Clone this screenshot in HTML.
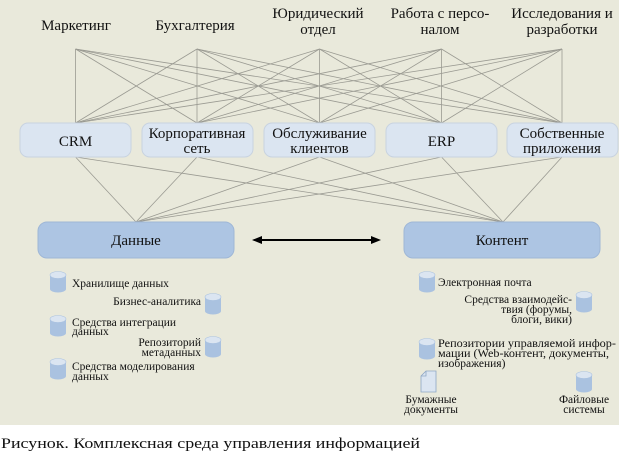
<!DOCTYPE html>
<html><head><meta charset="utf-8"><style>
html,body{margin:0;padding:0;background:#fff;}
svg{display:block;}
text{font-family:"Liberation Serif","DejaVu Serif",serif;fill:#111;}
</style></head><body>
<svg width="619" height="459" viewBox="0 0 619 459" xmlns="http://www.w3.org/2000/svg">
<defs>
<g id="cyl">
<path d="M0,4 L0,18 A8,3.5 0 0 0 16,18 L16,4 Z" fill="#aac2e0"/>
<ellipse cx="8" cy="4" rx="8" ry="3.5" fill="#dbe5f1" stroke="#aac2e0" stroke-width="0.6"/>
</g>
</defs>
<rect x="0" y="0" width="619" height="425" fill="#e9e9db"/>
<g stroke="#9a9a92" stroke-width="0.8" fill="none">
<line x1="75.5" y1="49" x2="75.5" y2="123"/><line x1="75.5" y1="49" x2="197" y2="123"/><line x1="75.5" y1="49" x2="319.5" y2="123"/><line x1="75.5" y1="49" x2="441.5" y2="123"/><line x1="75.5" y1="49" x2="562" y2="123"/>
<line x1="197" y1="49" x2="75.5" y2="123"/><line x1="197" y1="49" x2="197" y2="123"/><line x1="197" y1="49" x2="319.5" y2="123"/><line x1="197" y1="49" x2="441.5" y2="123"/><line x1="197" y1="49" x2="562" y2="123"/>
<line x1="319.5" y1="49" x2="75.5" y2="123"/><line x1="319.5" y1="49" x2="197" y2="123"/><line x1="319.5" y1="49" x2="319.5" y2="123"/><line x1="319.5" y1="49" x2="441.5" y2="123"/><line x1="319.5" y1="49" x2="562" y2="123"/>
<line x1="441.5" y1="49" x2="75.5" y2="123"/><line x1="441.5" y1="49" x2="197" y2="123"/><line x1="441.5" y1="49" x2="319.5" y2="123"/><line x1="441.5" y1="49" x2="441.5" y2="123"/><line x1="441.5" y1="49" x2="562" y2="123"/>
<line x1="562" y1="49" x2="75.5" y2="123"/><line x1="562" y1="49" x2="197" y2="123"/><line x1="562" y1="49" x2="319.5" y2="123"/><line x1="562" y1="49" x2="441.5" y2="123"/><line x1="562" y1="49" x2="562" y2="123"/>
<line x1="75.5" y1="157" x2="136" y2="222"/><line x1="75.5" y1="157" x2="503" y2="222"/>
<line x1="197" y1="157" x2="136" y2="222"/><line x1="197" y1="157" x2="503" y2="222"/>
<line x1="319.5" y1="157" x2="136" y2="222"/><line x1="319.5" y1="157" x2="503" y2="222"/>
<line x1="441.5" y1="157" x2="136" y2="222"/><line x1="441.5" y1="157" x2="503" y2="222"/>
<line x1="562" y1="157" x2="136" y2="222"/><line x1="562" y1="157" x2="503" y2="222"/>
</g>
<g font-size="15" text-anchor="middle">
<text x="76" y="30">Маркетинг</text>
<text x="195" y="30">Бухгалтерия</text>
<text x="318" y="18">Юридический</text><text x="318" y="34">отдел</text>
<text x="440" y="18">Работа с персо-</text><text x="440" y="34">налом</text>
<text x="562" y="18">Исследования и</text><text x="562" y="34">разработки</text>
</g>
<g fill="#dbe5f1" stroke="#c8d3e0" stroke-width="1">
<rect x="20" y="123" width="111" height="34" rx="8"/>
<rect x="142" y="123" width="111" height="34" rx="8"/>
<rect x="264" y="123" width="111" height="34" rx="8"/>
<rect x="386" y="123" width="111" height="34" rx="8"/>
<rect x="507" y="123" width="111" height="34" rx="8"/>
</g>
<g font-size="15" text-anchor="middle">
<text x="75.5" y="146">CRM</text>
<text x="197" y="138">Корпоративная</text><text x="197" y="153">сеть</text>
<text x="319.5" y="138">Обслуживание</text><text x="319.5" y="153">клиентов</text>
<text x="441.5" y="146">ERP</text>
<text x="562" y="138">Собственные</text><text x="562" y="153">приложения</text>
</g>
<rect x="38" y="222" width="196" height="36" rx="9" fill="#adc5e3" stroke="#9fb7d6"/>
<rect x="404" y="222" width="196" height="36" rx="9" fill="#adc5e3" stroke="#9fb7d6"/>
<text x="136" y="245" font-size="15" text-anchor="middle">Данные</text>
<text x="502" y="245" font-size="15" text-anchor="middle">Контент</text>
<line x1="258" y1="240" x2="376" y2="240" stroke="#000" stroke-width="2"/>
<path d="M252,240 L262,236 L262,244 Z M381,240 L371,236 L371,244 Z" fill="#000"/>
<use href="#cyl" x="50" y="271"/>
<use href="#cyl" x="205" y="293"/>
<use href="#cyl" x="50" y="315"/>
<use href="#cyl" x="205" y="336"/>
<use href="#cyl" x="50" y="358"/>
<use href="#cyl" x="419" y="271"/>
<use href="#cyl" x="576" y="291"/>
<use href="#cyl" x="419" y="338"/>
<use href="#cyl" x="576" y="371"/>
<path d="M421,376 L426,371 L436,371 L436,392 L421,392 Z" fill="#dbe5f1" stroke="#8ea6c4" stroke-width="0.8"/>
<path d="M421,376 L426,376 L426,371" fill="none" stroke="#8ea6c4" stroke-width="0.8"/>
<g font-size="11.5">
<text x="72" y="287">Хранилище данных</text>
<text x="201" y="305" text-anchor="end">Бизнес-аналитика</text>
<text x="72" y="326">Средства интеграции</text><text x="72" y="335">данных</text>
<text x="201" y="346" text-anchor="end">Репозиторий</text><text x="201" y="356" text-anchor="end">метаданных</text>
<text x="72" y="370">Средства моделирования</text><text x="72" y="380">данных</text>
<text x="438" y="286">Электронная почта</text>
<text x="572" y="303" text-anchor="end">Средства взаимодейс-</text>
<text x="572" y="313" text-anchor="end">твия (форумы,</text>
<text x="572" y="323" text-anchor="end">блоги, вики)</text>
<text x="438" y="347" textLength="178" lengthAdjust="spacingAndGlyphs">Репозитории управляемой инфор-</text>
<text x="438" y="357" textLength="171" lengthAdjust="spacingAndGlyphs">мации (Web-контент, документы,</text>
<text x="438" y="367">изображения)</text>
<text x="431" y="403" text-anchor="middle">Бумажные</text><text x="431" y="413" text-anchor="middle">документы</text>
<text x="584" y="403" text-anchor="middle">Файловые</text><text x="584" y="413" text-anchor="middle">системы</text>
</g>
<text x="1" y="448" font-size="15" textLength="419" lengthAdjust="spacingAndGlyphs">Рисунок. Комплексная среда управления информацией</text>
</svg>
</body></html>
